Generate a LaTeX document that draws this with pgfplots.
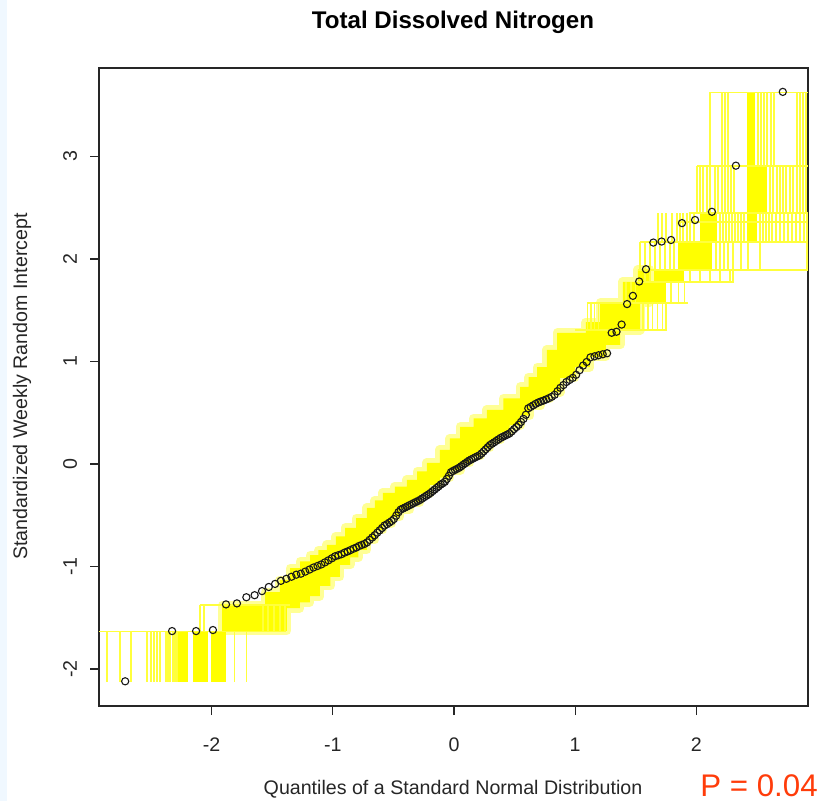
\documentclass[border=0pt]{standalone}
\usepackage{pgfplots}
\usepackage{pgfplotstable}
\pgfplotsset{compat=1.18}
\usepackage{fontspec}
\setmainfont{Liberation Sans}
\definecolor{ylw}{RGB}{255,255,0}
\definecolor{ylwl}{RGB}{255,255,60}
\definecolor{ylwp}{RGB}{255,255,150}
\definecolor{pred}{RGB}{255,60,10}
\definecolor{abg}{RGB}{240,248,255}
\pgfplotsset{
  vseg/.style={draw=none, no markers, error bars/.cd, y dir=plus, y explicit, error mark=none,
     error bar style={draw=ylwl, line width=0.6bp}},
  hseg/.style={draw=ylwl, line width=0.6bp, mark=none},
  blk/.style={fill=ylw, draw=none, mark=none},
}
\pgfplotstableread{
x y
-1.914 -1.376
-1.617 -1.376
-1.559 -1.376
-1.559 -1.249
-1.436 -1.249
-1.436 -1.132
-1.353 -1.132
-1.353 -1.015
-1.270 -1.015
-1.270 -0.950
-1.188 -0.950
-1.188 -0.888
-1.118 -0.888
-1.118 -0.840
-1.048 -0.840
-1.048 -0.790
-0.974 -0.790
-0.974 -0.707
-0.899 -0.707
-0.899 -0.624
-0.808 -0.624
-0.808 -0.527
-0.718 -0.527
-0.718 -0.429
-0.652 -0.429
-0.652 -0.356
-0.586 -0.356
-0.586 -0.283
-0.487 -0.283
-0.487 -0.220
-0.388 -0.220
-0.388 -0.156
-0.305 -0.156
-0.305 -0.073
-0.223 -0.073
-0.223 0.010
-0.116 0.010
-0.116 0.137
-0.033 0.137
-0.033 0.249
0.050 0.249
0.050 0.361
0.161 0.361
0.161 0.444
0.272 0.444
0.272 0.527
0.408 0.527
0.408 0.639
0.545 0.639
0.545 0.751
0.615 0.751
0.615 0.848
0.685 0.848
0.685 0.946
0.767 0.946
0.767 1.112
0.850 1.112
0.850 1.278
1.089 1.278
1.089 1.385
1.205 1.385
1.205 1.571
1.394 1.571
1.394 1.776
1.518 1.776
1.518 1.893
1.617 1.893
1.617 1.571
1.535 1.571
1.535 1.307
1.370 1.307
1.370 1.161
1.254 1.161
1.254 1.044
1.122 1.044
1.122 0.946
0.998 0.946
0.998 0.839
0.875 0.839
0.875 0.702
0.790 0.702
0.790 0.634
0.710 0.634
0.710 0.566
0.627 0.566
0.627 0.473
0.545 0.473
0.545 0.380
0.460 0.380
0.460 0.307
0.380 0.307
0.380 0.234
0.297 0.234
0.297 0.156
0.215 0.156
0.215 0.078
0.130 0.078
0.130 0.010
0.050 0.010
0.050 -0.059
-0.033 -0.059
-0.033 -0.132
-0.116 -0.132
-0.116 -0.205
-0.200 -0.205
-0.200 -0.288
-0.281 -0.288
-0.281 -0.371
-0.363 -0.371
-0.363 -0.444
-0.446 -0.444
-0.446 -0.517
-0.516 -0.517
-0.516 -0.580
-0.586 -0.580
-0.586 -0.644
-0.652 -0.644
-0.652 -0.741
-0.718 -0.741
-0.718 -0.839
-0.788 -0.839
-0.788 -0.912
-0.858 -0.912
-0.858 -0.985
-0.941 -0.985
-0.941 -1.102
-1.020 -1.102
-1.020 -1.190
-1.106 -1.190
-1.106 -1.288
-1.190 -1.288
-1.190 -1.350
-1.271 -1.350
-1.271 -1.405
-1.378 -1.405
-1.378 -1.629
-1.914 -1.629
}\bandtbl
\begin{document}
\begin{tikzpicture}
\path[use as bounding box] (0,0) rectangle (411bp,400.5bp);
\fill[abg] (0,0) rectangle (3.5bp,400.5bp);
\begin{axis}[
  at={(49.5bp,47.5bp)}, anchor=south west,
  scale only axis, width=354.5bp, height=319bp,
  xmin=-2.929, xmax=2.921, ymin=-2.361, ymax=3.863,
  xtick={-2,-1,0,1,2}, ytick={-2,-1,0,1,2,3},
  xtick pos=bottom, ytick pos=left,
  tick align=outside, major tick length=4.5bp,
  axis line style={line width=0.6bp, black!85},
  tick style={line width=0.6bp, black!85},
  /pgf/number format/assume math mode=true,
  ticklabel style={font=\fontsize{9.85}{11}\selectfont, text=black!85},
  xticklabel style={anchor=center, yshift=-15bp},
  yticklabel style={rotate=90, anchor=center, yshift=10bp},
  clip=true,
]
% ---------- main band: pale fringe, then solid ----------
\addplot[draw=ylwp, line width=4.5bp, line join=round, fill=none, mark=none] table[x=x,y=y] {\bandtbl} -- cycle;
\addplot[blk] table[x=x,y=y] {\bandtbl} -- cycle;
% ---------- solid blocks ----------
\addplot[blk] coordinates {(-2.277,-2.127) (-2.195,-2.127) (-2.195,-1.636) (-2.277,-1.636)} -- cycle;
\addplot[blk] coordinates {(-2.153,-2.127) (-2.030,-2.127) (-2.030,-1.636) (-2.153,-1.636)} -- cycle;
\addplot[blk] coordinates {(-2.005,-2.127) (-1.881,-2.127) (-1.881,-1.636) (-2.005,-1.636)} -- cycle;
\addplot[blk] coordinates {(2.417,2.907) (2.483,2.907) (2.483,3.626) (2.417,3.626)} -- cycle;
\addplot[blk] coordinates {(2.417,2.449) (2.583,2.449) (2.583,2.907) (2.417,2.907)} -- cycle;
\addplot[blk] coordinates {(2.030,2.166) (2.170,2.166) (2.170,2.449) (2.030,2.449)} -- cycle;
\addplot[blk] coordinates {(2.417,2.166) (2.500,2.166) (2.500,2.449) (2.417,2.449)} -- cycle;
\addplot[blk] coordinates {(1.848,1.893) (2.129,1.893) (2.129,2.166) (1.848,2.166)} -- cycle;
\addplot[blk] coordinates {(1.650,1.776) (1.900,1.776) (1.900,1.893) (1.650,1.893)} -- cycle;
\addplot[blk] coordinates {(1.550,1.571) (1.750,1.571) (1.750,1.776) (1.550,1.776)} -- cycle;
% ---------- vertical segments ----------
\addplot[vseg] coordinates {
(-2.863,-2.127) +- (0,0.491) (-2.756,-2.127) +- (0,0.491) (-2.665,-2.127) +- (0,0.491)
(-2.533,-2.127) +- (0,0.491) (-2.500,-2.127) +- (0,0.491) (-2.475,-2.127) +- (0,0.491)
(-2.450,-2.127) +- (0,0.491) (-2.426,-2.127) +- (0,0.491) (-2.376,-2.127) +- (0,0.491)
(-2.360,-2.127) +- (0,0.491) (-2.343,-2.127) +- (0,0.491) (-2.318,-2.127) +- (0,0.491)
(-2.302,-2.127) +- (0,0.491) (-2.285,-2.127) +- (0,0.491) (-1.809,-2.127) +- (0,0.491)
(-1.714,-2.127) +- (0,0.491)};
\addplot[vseg] coordinates {
(-2.096,-1.636) +- (0,0.260) (-2.063,-1.636) +- (0,0.260) (-1.576,-1.636) +- (0,0.260)
(-1.535,-1.636) +- (0,0.260) (-1.485,-1.636) +- (0,0.260) (-1.436,-1.636) +- (0,0.260)
(-1.394,-1.636) +- (0,0.260)};
\addplot[vseg] coordinates {
(2.112,2.907) +- (0,0.719) (2.211,2.907) +- (0,0.719) (2.236,2.907) +- (0,0.719)
(2.261,2.907) +- (0,0.719) (2.508,2.907) +- (0,0.719) (2.533,2.907) +- (0,0.719)
(2.558,2.907) +- (0,0.719) (2.583,2.907) +- (0,0.719) (2.616,2.907) +- (0,0.719)
(2.640,2.907) +- (0,0.719) (2.830,2.907) +- (0,0.719) (2.855,2.907) +- (0,0.719)
(2.880,2.907) +- (0,0.719) (2.904,2.907) +- (0,0.719)};
\addplot[vseg] coordinates {
(2.005,2.449) +- (0,0.458) (2.030,2.449) +- (0,0.458) (2.054,2.449) +- (0,0.458)
(2.087,2.449) +- (0,0.458) (2.112,2.449) +- (0,0.458) (2.153,2.449) +- (0,0.458)
(2.178,2.449) +- (0,0.458) (2.211,2.449) +- (0,0.458) (2.236,2.449) +- (0,0.458)
(2.261,2.449) +- (0,0.458) (2.285,2.449) +- (0,0.458) (2.310,2.449) +- (0,0.458)
(2.607,2.449) +- (0,0.458) (2.632,2.449) +- (0,0.458) (2.665,2.449) +- (0,0.458)
(2.690,2.449) +- (0,0.458) (2.715,2.449) +- (0,0.458) (2.739,2.449) +- (0,0.458)
(2.772,2.449) +- (0,0.458) (2.797,2.449) +- (0,0.458) (2.830,2.449) +- (0,0.458)
(2.855,2.449) +- (0,0.458) (2.880,2.449) +- (0,0.458) (2.904,2.449) +- (0,0.458)};
\addplot[vseg] coordinates {
(1.683,2.166) +- (0,0.283) (1.716,2.166) +- (0,0.283) (1.749,2.166) +- (0,0.283)
(1.799,2.166) +- (0,0.283) (1.840,2.166) +- (0,0.283) (1.865,2.166) +- (0,0.283)
(1.889,2.166) +- (0,0.283) (1.922,2.166) +- (0,0.283) (1.947,2.166) +- (0,0.283)
(1.980,2.166) +- (0,0.283) (2.195,2.166) +- (0,0.283) (2.219,2.166) +- (0,0.283)
(2.244,2.166) +- (0,0.283) (2.269,2.166) +- (0,0.283) (2.294,2.166) +- (0,0.283)
(2.318,2.166) +- (0,0.283) (2.343,2.166) +- (0,0.283) (2.368,2.166) +- (0,0.283)
(2.393,2.166) +- (0,0.283) (2.525,2.166) +- (0,0.283) (2.550,2.166) +- (0,0.283)
(2.574,2.166) +- (0,0.283) (2.599,2.166) +- (0,0.283) (2.624,2.166) +- (0,0.283)
(2.657,2.166) +- (0,0.283) (2.690,2.166) +- (0,0.283) (2.723,2.166) +- (0,0.283)
(2.756,2.166) +- (0,0.283) (2.789,2.166) +- (0,0.283) (2.822,2.166) +- (0,0.283)
(2.855,2.166) +- (0,0.283) (2.888,2.166) +- (0,0.283) (2.913,2.166) +- (0,0.283)};
\addplot[vseg] coordinates {
(1.535,1.893) +- (0,0.273) (1.576,1.893) +- (0,0.273) (1.617,1.893) +- (0,0.273)
(1.658,1.893) +- (0,0.273) (1.700,1.893) +- (0,0.273) (1.741,1.893) +- (0,0.273)
(1.782,1.893) +- (0,0.273) (1.815,1.893) +- (0,0.273) (2.162,1.893) +- (0,0.273)
(2.195,1.893) +- (0,0.273) (2.228,1.893) +- (0,0.273) (2.261,1.893) +- (0,0.273)
(2.302,1.893) +- (0,0.273) (2.368,1.893) +- (0,0.273) (2.426,1.893) +- (0,0.273)
(2.525,1.893) +- (0,0.273) (2.913,1.893) +- (0,0.273)};
\addplot[vseg] coordinates {
(1.576,1.776) +- (0,0.117) (1.617,1.776) +- (0,0.117) (1.947,1.776) +- (0,0.117)
(2.030,1.776) +- (0,0.117) (2.112,1.776) +- (0,0.117) (2.195,1.776) +- (0,0.117)
(2.277,1.776) +- (0,0.117) (2.302,1.776) +- (0,0.117)};
\addplot[vseg] coordinates {
(1.420,1.571) +- (0,0.205) (1.460,1.571) +- (0,0.205) (1.500,1.571) +- (0,0.205)
(1.790,1.571) +- (0,0.205) (1.850,1.571) +- (0,0.205) (1.900,1.571) +- (0,0.205)};
\addplot[vseg] coordinates {
(1.100,1.307) +- (0,0.264) (1.130,1.307) +- (0,0.264) (1.160,1.307) +- (0,0.264)
(1.190,1.307) +- (0,0.264) (1.560,1.307) +- (0,0.264) (1.600,1.307) +- (0,0.264)
(1.640,1.307) +- (0,0.264) (1.680,1.307) +- (0,0.264) (1.720,1.307) +- (0,0.264)
(1.750,1.307) +- (0,0.264)};
% ---------- horizontal segments ----------
\addplot[hseg] coordinates {(-2.929,-1.636) (-1.394,-1.636)};
\addplot[hseg] coordinates {(-2.096,-1.376) (-1.350,-1.376)};
\addplot[hseg] coordinates {(2.112,3.626) (2.921,3.626)};
\addplot[hseg] coordinates {(2.005,2.907) (2.921,2.907)};
\addplot[hseg] coordinates {(1.940,2.449) (2.921,2.449)};
\addplot[hseg] coordinates {(1.840,2.361) (2.921,2.361)};
\addplot[hseg] coordinates {(1.535,2.166) (2.921,2.166)};
\addplot[hseg] coordinates {(1.518,1.893) (2.921,1.893)};
\addplot[hseg] coordinates {(1.518,1.776) (2.309,1.776)};
\addplot[hseg] coordinates {(1.097,1.571) (1.931,1.571)};
\addplot[hseg] coordinates {(1.000,1.307) (1.757,1.307)};
% ---------- observed quantiles ----------
\addplot[only marks, mark=o, mark size=1.8bp, mark options={line width=0.55bp, draw=black!90}] coordinates {
(-2.713,-2.12) (-2.326,-1.63) (-2.128,-1.63) (-1.989,-1.62) (-1.881,-1.37)
(-1.791,-1.36) (-1.713,-1.30) (-1.645,-1.28) (-1.584,-1.24) (-1.528,-1.20)
(-1.476,-1.17) (-1.428,-1.14) (-1.383,-1.12) (-1.341,-1.10) (-1.301,-1.08)
(-1.263,-1.07) (-1.227,-1.05) (-1.192,-1.03) (-1.159,-1.01) (-1.126,-0.995)
(-1.095,-0.98) (-1.065,-0.96) (-1.036,-0.94) (-1.008,-0.92) (-0.980,-0.90)
(-0.954,-0.89) (-0.928,-0.88) (-0.903,-0.865) (-0.878,-0.853) (-0.854,-0.84)
(-0.830,-0.827) (-0.806,-0.815) (-0.783,-0.80) (-0.761,-0.79) (-0.739,-0.78)
(-0.717,-0.765) (-0.696,-0.74) (-0.674,-0.717) (-0.654,-0.695) (-0.633,-0.67)
(-0.613,-0.647) (-0.593,-0.624) (-0.573,-0.60) (-0.553,-0.587) (-0.534,-0.572)
(-0.515,-0.557) (-0.496,-0.537) (-0.477,-0.504) (-0.458,-0.47) (-0.440,-0.445)
(-0.422,-0.435) (-0.403,-0.424) (-0.385,-0.413) (-0.367,-0.402) (-0.349,-0.392)
(-0.332,-0.381) (-0.314,-0.371) (-0.297,-0.361) (-0.279,-0.35) (-0.262,-0.336)
(-0.245,-0.323) (-0.228,-0.31) (-0.210,-0.296) (-0.193,-0.282) (-0.176,-0.265)
(-0.160,-0.25) (-0.143,-0.233) (-0.126,-0.218) (-0.109,-0.20) (-0.092,-0.188)
(-0.075,-0.174) (-0.059,-0.146) (-0.042,-0.115) (-0.025,-0.08) (-0.008,-0.068)
(0.008,-0.058) (0.025,-0.048) (0.042,-0.037) (0.059,-0.023) (0.075,-0.008)
(0.092,0.006) (0.109,0.02) (0.126,0.034) (0.143,0.045) (0.160,0.055)
(0.176,0.065) (0.193,0.075) (0.210,0.085) (0.228,0.103) (0.245,0.123)
(0.262,0.143) (0.279,0.164) (0.297,0.185) (0.314,0.198) (0.332,0.212)
(0.349,0.226) (0.367,0.24) (0.385,0.254) (0.403,0.265) (0.422,0.276)
(0.440,0.287) (0.458,0.298) (0.477,0.318) (0.496,0.34) (0.515,0.36)
(0.534,0.383) (0.553,0.41) (0.573,0.44) (0.593,0.48) (0.613,0.543)
(0.633,0.557) (0.654,0.572) (0.674,0.587) (0.696,0.60) (0.717,0.61)
(0.739,0.619) (0.761,0.63) (0.783,0.642) (0.806,0.655) (0.830,0.675)
(0.854,0.71) (0.878,0.743) (0.903,0.77) (0.928,0.80) (0.954,0.82)
(0.980,0.84) (1.008,0.87) (1.036,0.915) (1.065,0.96) (1.095,0.995)
(1.126,1.04) (1.159,1.05) (1.192,1.06) (1.227,1.07) (1.263,1.08)
(1.301,1.28) (1.341,1.29) (1.383,1.36) (1.428,1.56) (1.476,1.64)
(1.528,1.78) (1.584,1.90) (1.645,2.16) (1.713,2.17) (1.791,2.185)
(1.881,2.35) (1.989,2.38) (2.128,2.46) (2.326,2.91) (2.713,3.63)};
\end{axis}
\node[font=\bfseries\fontsize{12.1}{14}\selectfont, text=black] at (226.5bp,389.5bp) {Total Dissolved Nitrogen};
\node[font=\fontsize{9.85}{11}\selectfont, text=black!85] at (226.5bp,6bp) {Quantiles of a Standard Normal Distribution};
\node[font=\fontsize{9.85}{11}\selectfont, text=black!85, rotate=90] at (11bp,207.25bp) {Standardized Weekly Random Intercept};
\node[font=\fontsize{15.7}{18}\selectfont, text=pred] at (379.5bp,7.5bp) {P = 0.04};
\end{tikzpicture}
\end{document}
